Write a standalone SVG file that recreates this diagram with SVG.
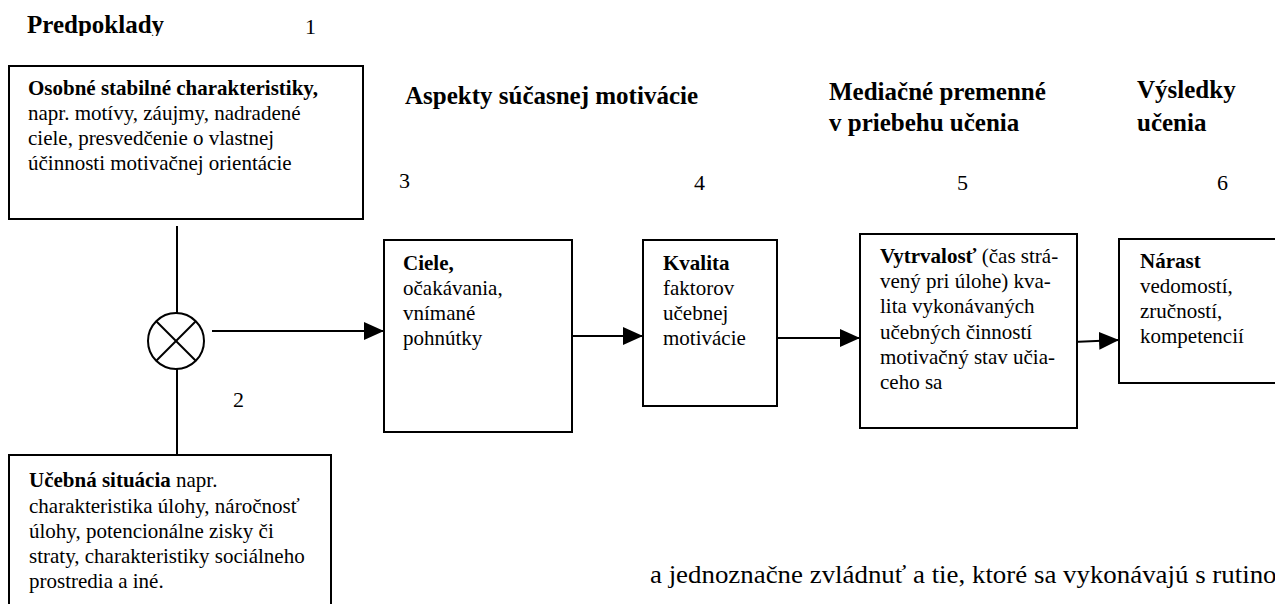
<svg xmlns="http://www.w3.org/2000/svg" width="1275" height="604" viewBox="0 0 1275 604" font-family="'Liberation Serif', 'Times New Roman', serif">
<style>
text{font-family:"Liberation Serif","Times New Roman",serif;fill:#000}
.h{font-size:25px;font-weight:bold}
.t{font-size:21px}
.n{font-size:22px}
.b{font-weight:bold}
.box{fill:#fff;stroke:#000;stroke-width:2}
.ln{stroke:#000;stroke-width:2;fill:none}
</style>
<defs>
<marker id="ah" viewBox="0 0 20 18" refX="20" refY="9" markerWidth="20" markerHeight="18" markerUnits="userSpaceOnUse" orient="auto">
<path d="M0,0 L20,9 L0,18 Z" fill="#000"/>
</marker>
<clipPath id="clipTop"><rect x="0" y="0" width="400" height="36"/></clipPath>
</defs>
<rect width="1275" height="604" fill="#fff"/>

<g id="headings">
<text class="h" x="27" y="33" clip-path="url(#clipTop)">Predpoklady</text>
<text class="n" x="305" y="34">1</text>
<text class="h" x="405" y="104">Aspekty súčasnej motivácie</text>
<text class="h" x="829" y="100">Mediačné premenné</text>
<text class="h" x="829" y="131">v priebehu učenia</text>
<text class="h" x="1137" y="98">Výsledky</text>
<text class="h" x="1137" y="131">učenia</text>
<text class="n" x="399" y="188">3</text>
<text class="n" x="694" y="190">4</text>
<text class="n" x="957" y="190">5</text>
<text class="n" x="1217" y="190">6</text>
<text class="n" x="233" y="407">2</text>
</g>

<g id="connectors">
<line class="ln" x1="177" y1="226" x2="177" y2="313"/>
<line class="ln" x1="177" y1="369" x2="177" y2="455"/>
<line class="ln" x1="212" y1="331" x2="384" y2="331" marker-end="url(#ah)"/>
<line class="ln" x1="572" y1="336" x2="643" y2="336" marker-end="url(#ah)"/>
<line class="ln" x1="777" y1="338" x2="860" y2="338" marker-end="url(#ah)"/>
<line class="ln" x1="1073" y1="342" x2="1119" y2="340" marker-end="url(#ah)"/>
</g>

<g id="node-osobne">
<rect class="box" x="9" y="66" width="354" height="153"/>
<text class="t" x="28" y="95"><tspan class="b">Osobné stabilné charakteristiky,</tspan></text>
<text class="t" x="28" y="120">napr. motívy, záujmy, nadradené</text>
<text class="t" x="28" y="145">ciele, presvedčenie o vlastnej</text>
<text class="t" x="28" y="170">účinnosti motivačnej orientácie</text>
</g>

<g id="node-operator">
<circle cx="176" cy="341" r="28" fill="#fff" stroke="#000" stroke-width="2"/>
<line class="ln" x1="156" y1="321" x2="196" y2="361"/>
<line class="ln" x1="196" y1="321" x2="156" y2="361"/>
</g>

<g id="node-ucebna">
<rect class="box" x="9" y="455" width="322" height="160"/>
<text class="t" x="29" y="487"><tspan class="b">Učebná situácia</tspan> napr.</text>
<text class="t" x="29" y="513">charakteristika úlohy, náročnosť</text>
<text class="t" x="29" y="538">úlohy, potencionálne zisky či</text>
<text class="t" x="29" y="563">straty, charakteristiky sociálneho</text>
<text class="t" x="29" y="588">prostredia a iné.</text>
</g>

<g id="node-ciele">
<rect class="box" x="384" y="240" width="188" height="192"/>
<text class="t" x="403" y="270"><tspan class="b">Ciele,</tspan></text>
<text class="t" x="403" y="295">očakávania,</text>
<text class="t" x="403" y="320">vnímané</text>
<text class="t" x="403" y="345">pohnútky</text>
</g>

<g id="node-kvalita">
<rect class="box" x="643" y="240" width="134" height="166"/>
<text class="t" x="663" y="270"><tspan class="b">Kvalita</tspan></text>
<text class="t" x="663" y="295">faktorov</text>
<text class="t" x="663" y="320">učebnej</text>
<text class="t" x="663" y="345">motivácie</text>
</g>

<g id="node-vytrvalost">
<rect class="box" x="860" y="234" width="217" height="194"/>
<text class="t" x="880" y="263"><tspan class="b">Vytrvalosť</tspan> (čas strá-</text>
<text class="t" x="880" y="288">vený pri úlohe) kva-</text>
<text class="t" x="880" y="313">lita vykonávaných</text>
<text class="t" x="880" y="339">učebných činností</text>
<text class="t" x="880" y="364">motivačný stav učia-</text>
<text class="t" x="880" y="389">ceho sa</text>
</g>

<g id="node-narast">
<rect class="box" x="1119" y="239" width="170" height="144"/>
<text class="t" x="1140" y="268"><tspan class="b">Nárast</tspan></text>
<text class="t" x="1140" y="293">vedomostí,</text>
<text class="t" x="1140" y="318">zručností,</text>
<text class="t" x="1140" y="343">kompetencií</text>
</g>

<text x="650" y="583" style="font-size:25px" textLength="640" lengthAdjust="spacingAndGlyphs">a jednoznačne zvládnuť a tie, ktoré sa vykonávajú s rutinou</text>
</svg>
